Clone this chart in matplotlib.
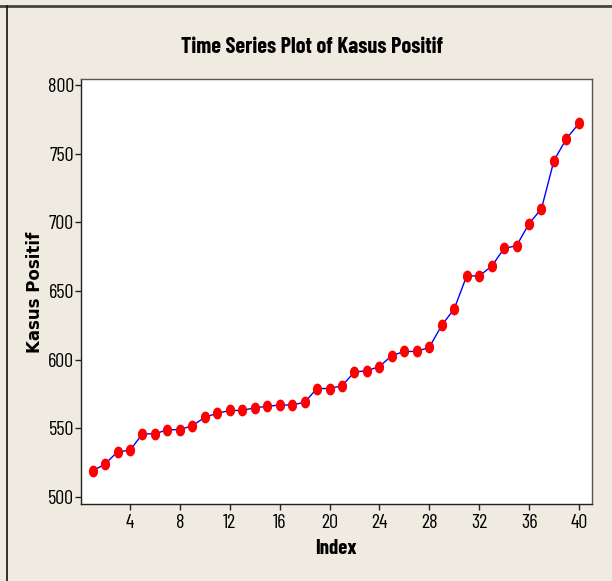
import matplotlib
matplotlib.use("Agg")
import matplotlib.pyplot as plt
import numpy as np
from matplotlib.path import Path
from matplotlib.lines import Line2D

index = list(range(1, 41))
kasus_positif = [519, 524, 533, 534, 546, 546, 549, 549, 552, 558,
                 561, 563, 563, 565, 566, 567, 567, 569, 579, 579,
                 581, 591, 592, 595, 603, 606, 606, 609, 625, 637,
                 661, 661, 668, 681, 683, 699, 710, 745, 761, 772]
x_ticks = [4, 8, 12, 16, 20, 24, 28, 32, 36, 40]
y_ticks = [500, 550, 600, 650, 700, 750, 800]

title = "Time Series Plot of Kasus Positif"
xlabel = "Index"
ylabel = "Kasus Positif"

bg = "#EFEBE1"
narrow = ["Barlow Condensed", "DejaVu Sans"]

fig = plt.figure(figsize=(6.12, 5.81), dpi=100, facecolor=bg)
ax = fig.add_axes([81/612, 1-504/581, (592-81)/612, (504-79)/581])
ax.set_facecolor("white")

t = np.linspace(0, 2*np.pi, 40)
ell = Path(np.column_stack([0.75*np.cos(t), np.sin(t)]), closed=True)

ax.plot(index, kasus_positif, color="#0000FF", lw=1.0, zorder=2)
ax.plot(index, kasus_positif, linestyle="none", marker=ell, markersize=7.5,
        markerfacecolor="#FF0000", markeredgecolor="#FF0000", zorder=3)

ax.set_xlim(0.07, 41.05)
ax.set_ylim(494.9, 804.4)
ax.set_xticks(x_ticks)
ax.set_yticks(y_ticks)
ax.set_xticklabels([str(v) for v in x_ticks], family=narrow, fontsize=14.5)
ax.set_yticklabels([str(v) for v in y_ticks], family=narrow, fontsize=14.5)
ax.tick_params(axis="both", direction="out", length=4, width=1, color="#222222")
ax.tick_params(axis="x", pad=3)
ax.tick_params(axis="y", pad=1)
for s in ["top", "right"]:
    ax.spines[s].set_color("#555555")
for s in ["left", "bottom"]:
    ax.spines[s].set_color("#222222")
for s in ax.spines.values():
    s.set_linewidth(1.0)

fig.text(0.51, 1-47/581, title, ha="center", va="center",
         family=narrow, fontweight="bold", fontsize=16)
fig.text(336/612, 1-549/581, xlabel, ha="center", va="center",
         family=narrow, fontweight="bold", fontsize=15)
fig.text(35/612, 1-292/581, ylabel, ha="center", va="center", rotation=90,
         family=["DejaVu Sans"], fontweight="bold", fontsize=12)

fig.add_artist(Line2D([0, 1], [1-6/581, 1-6/581], color="#444444", lw=2,
                      transform=fig.transFigure))
fig.add_artist(Line2D([7/612, 7/612], [0, 1-6/581], color="#111111", lw=1.2,
                      transform=fig.transFigure))

fig.savefig("out.png", dpi=100, facecolor=bg)
